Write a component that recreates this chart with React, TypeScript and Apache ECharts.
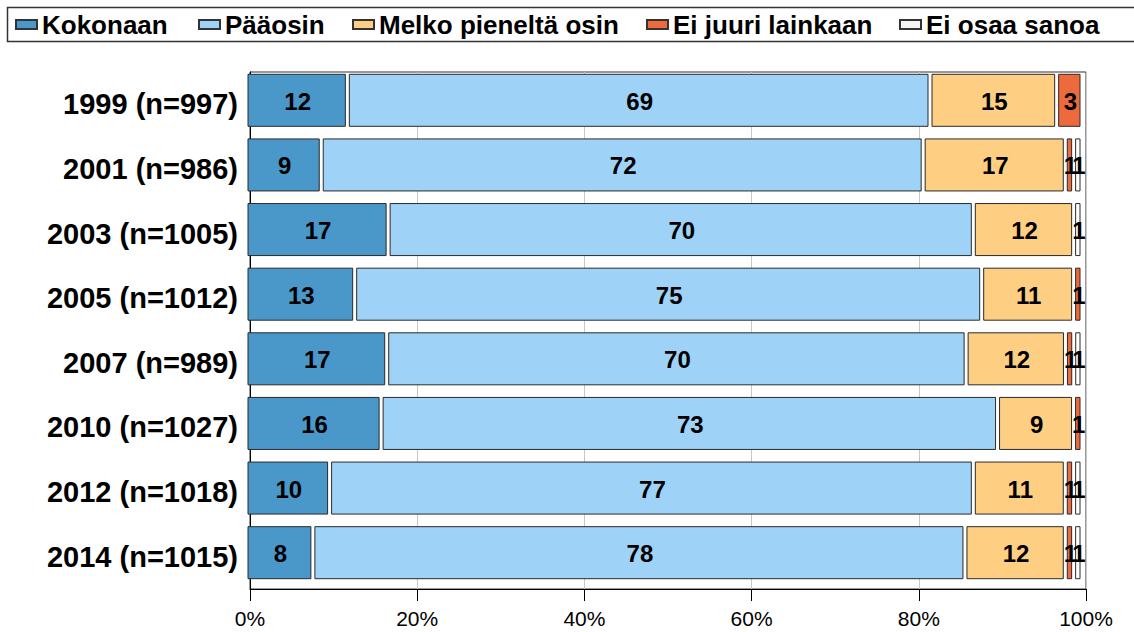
import React, { useEffect, useRef } from "react";
import * as echarts from "echarts";

const categories = [
  "1999 (n=997)",
  "2001 (n=986)",
  "2003 (n=1005)",
  "2005 (n=1012)",
  "2007 (n=989)",
  "2010 (n=1027)",
  "2012 (n=1018)",
  "2014 (n=1015)",
];
const seriesNames = ["Kokonaan", "Pääosin", "Melko pieneltä osin", "Ei juuri lainkaan", "Ei osaa sanoa"];
const kokonaan = [12, 9, 17, 13, 17, 16, 10, 8];
const paaosin = [69, 72, 70, 75, 70, 73, 77, 78];
const melko = [15, 17, 12, 11, 12, 9, 11, 12];
const eiJuuri = [3, 1, 0, 1, 1, 1, 1, 1];
const eiOsaa = [0, 1, 1, 0, 1, 0, 1, 1];
const colors = ["#4A97C9", "#9ED2F6", "#FECE82", "#EC6A3B", "#F4F4F4"];
const legendLefts = [15, 198, 352, 646, 899];

const FONT = '"Liberation Sans", Arial, Helvetica, sans-serif';

export default function App() {
  const ref = useRef<HTMLDivElement>(null);
  useEffect(() => {
    if (!ref.current) return;
    const chart = echarts.init(ref.current, null, { renderer: "svg" });
    const all = [kokonaan, paaosin, melko, eiJuuri, eiOsaa];
    const totals = categories.map((_, i) => all.reduce((s, arr) => s + arr[i], 0));
    const seriesData = all.map((arr, si) =>
      categories.map((_, ci) => {
        let before = 0;
        for (let k = 0; k < si; k++) before += all[k][ci];
        const start = (before / totals[ci]) * 100;
        const end = ((before + arr[ci]) / totals[ci]) * 100;
        return [ci, start, end, arr[ci]];
      })
    );

    const series = seriesNames.map((name, si) => ({
      name,
      type: "custom",
      itemStyle: { color: colors[si], borderColor: "#333", borderWidth: 1 },
      encode: { x: [1, 2], y: 0 },
      data: seriesData[si],
      renderItem: (params: any, api: any) => {
        const cat = api.value(0);
        const s = api.value(1);
        const e = api.value(2);
        const raw = api.value(3);
        if (!raw) return { type: "group", children: [] };
        const p0 = api.coord([s, cat]);
        const p1 = api.coord([e, cat]);
        const band = api.size([0, 1])[1];
        const h = band * 0.805;
        const cy = p0[1] - 4;
        const x0 = p0[0] - 2;
        const x1 = p1[0] - 6;
        return {
          type: "group",
          children: [
            {
              type: "rect",
              shape: { x: x0, y: cy - h / 2, width: Math.max(x1 - x0, 1), height: h },
              style: { fill: si === 4 ? "#ffffff" : colors[si], stroke: "#2a2a2a", lineWidth: 1 },
            },
            {
              type: "text",
              z2: 50,
              x: (x0 + x1) / 2 + 1,
              y: cy + 1,
              style: {
                text: String(raw),
                fontSize: 24,
                fontWeight: "bold",
                fontFamily: FONT,
                fill: "#000",
                textAlign: "center",
                textVerticalAlign: "middle",
                align: "center",
                verticalAlign: "middle",
              },
            },
          ],
        };
      },
    }));

    const legends = seriesNames.map((name, i) => ({
      left: legendLefts[i],
      top: 11.5,
      itemWidth: 21,
      itemHeight: 9,
      padding: 0,
      icon: "rect",
      data: [name],
      textStyle: { fontSize: 26, fontWeight: "bold", color: "#000", fontFamily: FONT },
    }));

    chart.setOption({
      animation: false,
      backgroundColor: "#fff",
      textStyle: { fontFamily: FONT },
      graphic: [
        {
          type: "rect",
          z: -1,
          shape: { x: 7.5, y: 7.5, width: 1140, height: 34 },
          style: { fill: "#fff", stroke: "#333", lineWidth: 1.5 },
        },
      ],
      legend: legends,
      grid: {
        left: 250,
        right: 48,
        top: 72,
        bottom: 43,
        show: true,
        borderColor: "#333",
        borderWidth: 1,
        containLabel: false,
      },
      xAxis: {
        type: "value",
        min: 0,
        max: 100,
        interval: 20,
        axisLine: { show: true, lineStyle: { color: "#000", width: 1 } },
        axisTick: { show: true, length: 12, inside: false, lineStyle: { color: "#000" } },
        axisLabel: { formatter: "{value}%", fontSize: 21, color: "#000", margin: 19, fontFamily: FONT },
        splitLine: { show: true, lineStyle: { color: "#c8c8c8", width: 1 } },
      },
      yAxis: {
        type: "category",
        inverse: true,
        data: categories,
        axisLine: { show: true, lineStyle: { color: "#000", width: 1 } },
        axisTick: { show: false },
        axisLabel: { fontSize: 29, fontWeight: "bold", color: "#000", margin: 12, fontFamily: FONT },
        splitLine: { show: false },
      },
      series,
    });
    return () => chart.dispose();
  }, []);
  return (
    <div
      ref={ref}
      style={{ position: "fixed", left: 0, top: 0, width: 1134, height: 632, background: "#fff" }}
    />
  );
}
